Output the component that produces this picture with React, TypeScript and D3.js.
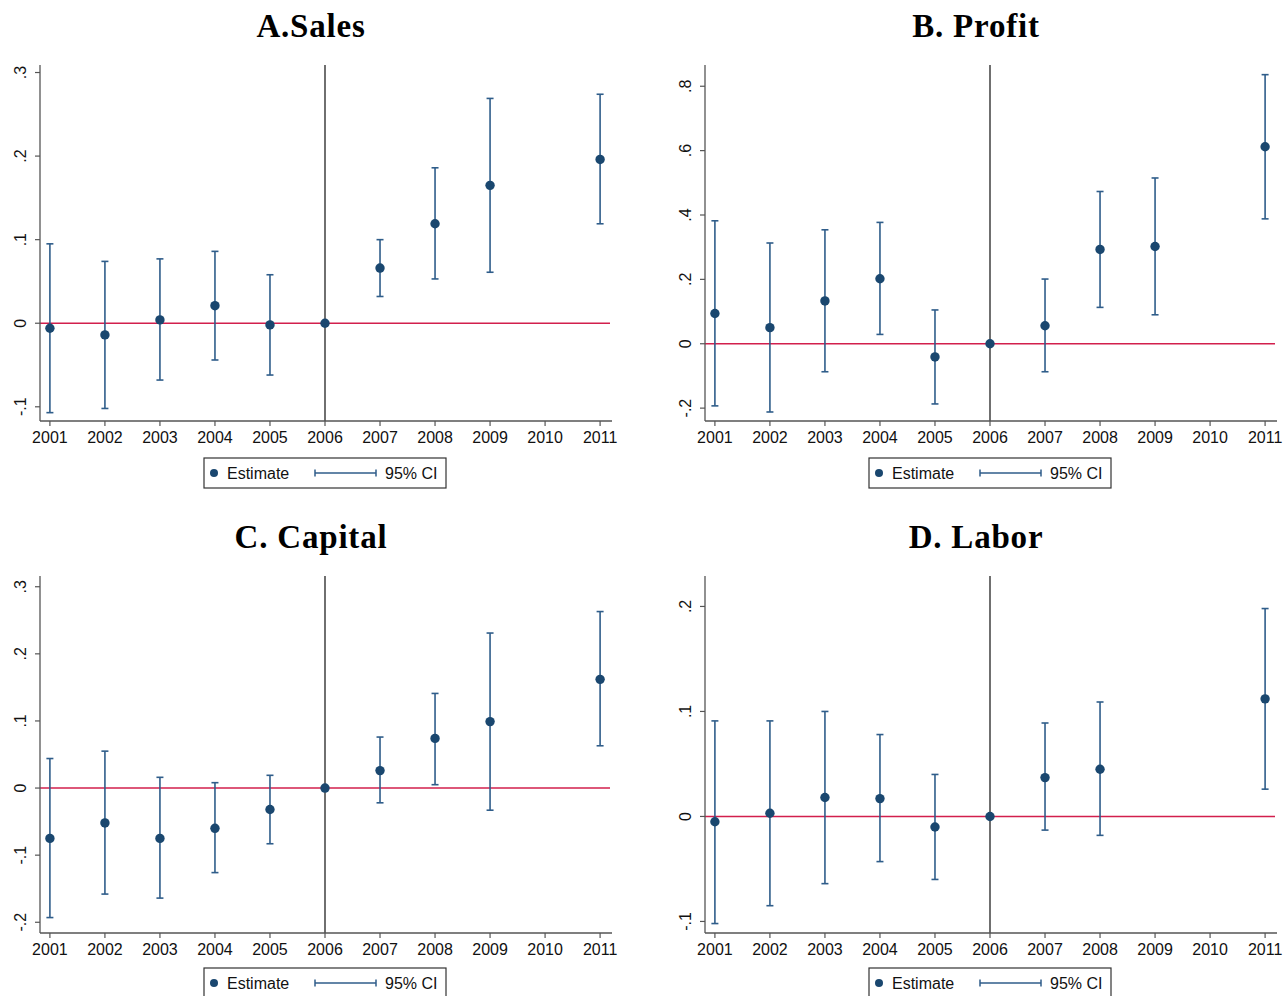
import React from "react";
import * as d3 from "d3";

const years = [2001, 2002, 2003, 2004, 2005, 2006, 2007, 2008, 2009, 2010, 2011];

// Panel A: Sales
const salesEst = [-0.006, -0.014, 0.004, 0.021, -0.002, 0, 0.066, 0.119, 0.165, null, 0.196];
const salesLo = [-0.107, -0.102, -0.068, -0.044, -0.062, null, 0.032, 0.053, 0.061, null, 0.119];
const salesHi = [0.095, 0.074, 0.077, 0.086, 0.058, null, 0.100, 0.186, 0.269, null, 0.274];
const salesTicks = [-0.1, 0, 0.1, 0.2, 0.3];
const salesTickLabels = ["-.1", "0", ".1", ".2", ".3"];

// Panel B: Profit
const profitEst = [0.094, 0.050, 0.133, 0.202, -0.041, 0, 0.056, 0.293, 0.302, null, 0.612];
const profitLo = [-0.193, -0.212, -0.087, 0.029, -0.187, null, -0.087, 0.113, 0.090, null, 0.388];
const profitHi = [0.382, 0.313, 0.354, 0.377, 0.105, null, 0.201, 0.473, 0.515, null, 0.836];
const profitTicks = [-0.2, 0, 0.2, 0.4, 0.6, 0.8];
const profitTickLabels = ["-.2", "0", ".2", ".4", ".6", ".8"];

// Panel C: Capital
const capitalEst = [-0.075, -0.052, -0.075, -0.060, -0.032, 0, 0.026, 0.074, 0.099, null, 0.162];
const capitalLo = [-0.193, -0.158, -0.164, -0.126, -0.083, null, -0.022, 0.005, -0.033, null, 0.063];
const capitalHi = [0.044, 0.055, 0.016, 0.008, 0.019, null, 0.076, 0.141, 0.231, null, 0.263];
const capitalTicks = [-0.2, -0.1, 0, 0.1, 0.2, 0.3];
const capitalTickLabels = ["-.2", "-.1", "0", ".1", ".2", ".3"];

// Panel D: Labor
const laborEst = [-0.005, 0.003, 0.018, 0.017, -0.010, 0, 0.037, 0.045, null, null, 0.112];
const laborLo = [-0.102, -0.085, -0.064, -0.043, -0.060, null, -0.013, -0.018, null, null, 0.026];
const laborHi = [0.091, 0.091, 0.100, 0.078, 0.040, null, 0.089, 0.109, null, null, 0.198];
const laborTicks = [-0.1, 0, 0.1, 0.2];
const laborTickLabels = ["-.1", "0", ".1", ".2"];

const titles = ["A.Sales", "B. Profit", "C. Capital", "D. Labor"];
const legendLabels = ["Estimate", "95% CI"];

const EST_COLOR = "#1a476f";
const CI_COLOR = "#2f5d8a";
const RED = "#d21f4d";
const AXIS = "#555";
const TXT = "#111";
const SANS = "'Liberation Sans', Arial, sans-serif";
const SERIF = "'Liberation Serif', 'Times New Roman', serif";

type PanelProps = {
  title: string;
  est: (number | null)[];
  lo: (number | null)[];
  hi: (number | null)[];
  ticks: number[];
  tickLabels: string[];
  yDomain: [number, number];
  left: number;
  right: number;
  top: number;
  bottom: number;
  titleY: number;
  legendGap: number;
};

function Panel(p: PanelProps) {
  const x = d3.scaleLinear().domain([2000.82, 2011.18]).range([p.left, p.right]);
  const y = d3.scaleLinear().domain(p.yDomain).range([p.bottom, p.top]);
  const cx = (p.left + p.right) / 2;
  const legTop = p.bottom + p.legendGap;
  const legLeft = cx - 121;
  return (
    <g>
      <text x={cx - 14} y={p.titleY} textAnchor="middle" fontFamily={SERIF} fontWeight="bold" fontSize={33} letterSpacing={0.8} fill="#000">
        {p.title}
      </text>
      <line x1={p.left} x2={p.right} y1={y(0)} y2={y(0)} stroke={RED} strokeWidth={1.5} />
      <line x1={x(2006)} x2={x(2006)} y1={p.top} y2={p.bottom} stroke="#222" strokeWidth={1.3} />
      <line x1={p.left} x2={p.left} y1={p.top} y2={p.bottom} stroke={AXIS} strokeWidth={1.3} />
      <line x1={p.left} x2={p.right + 2} y1={p.bottom} y2={p.bottom} stroke={AXIS} strokeWidth={1.3} />
      {p.ticks.map((t, i) => (
        <g key={"yt" + i}>
          <line x1={p.left - 5} x2={p.left} y1={y(t)} y2={y(t)} stroke={AXIS} strokeWidth={1.2} />
          <text transform={`translate(${p.left - 14},${y(t)}) rotate(-90)`} textAnchor="middle" fontFamily={SANS} fontSize={16} fill={TXT}>
            {p.tickLabels[i]}
          </text>
        </g>
      ))}
      {years.map((yr) => (
        <g key={"xt" + yr}>
          <line x1={x(yr)} x2={x(yr)} y1={p.bottom} y2={p.bottom + 5} stroke={AXIS} strokeWidth={1.2} />
          <text x={x(yr)} y={p.bottom + 22} textAnchor="middle" fontFamily={SANS} fontSize={16} fill={TXT}>
            {yr}
          </text>
        </g>
      ))}
      {years.map((yr, i) => {
        const l = p.lo[i];
        const h = p.hi[i];
        if (l == null || h == null) return null;
        const xx = x(yr);
        return (
          <g key={"ci" + yr} stroke={CI_COLOR} strokeWidth={1.6}>
            <line x1={xx} x2={xx} y1={y(l)} y2={y(h)} />
            <line x1={xx - 3.5} x2={xx + 3.5} y1={y(l)} y2={y(l)} />
            <line x1={xx - 3.5} x2={xx + 3.5} y1={y(h)} y2={y(h)} />
          </g>
        );
      })}
      {years.map((yr, i) => {
        const e = p.est[i];
        if (e == null) return null;
        return <circle key={"pt" + yr} cx={x(yr)} cy={y(e)} r={4.7} fill={EST_COLOR} />;
      })}
      <rect x={legLeft} y={legTop} width={242} height={30} fill="#fff" stroke="#333" strokeWidth={1.2} />
      <circle cx={legLeft + 10} cy={legTop + 15} r={4} fill={EST_COLOR} />
      <text x={legLeft + 23} y={legTop + 21} fontFamily={SANS} fontSize={16} fill={TXT}>
        {legendLabels[0]}
      </text>
      <g stroke={CI_COLOR} strokeWidth={1.5}>
        <line x1={legLeft + 111} x2={legLeft + 172} y1={legTop + 15} y2={legTop + 15} />
        <line x1={legLeft + 111} x2={legLeft + 111} y1={legTop + 11.5} y2={legTop + 18.5} />
        <line x1={legLeft + 172} x2={legLeft + 172} y1={legTop + 11.5} y2={legTop + 18.5} />
      </g>
      <text x={legLeft + 181} y={legTop + 21} fontFamily={SANS} fontSize={16} fill={TXT}>
        {legendLabels[1]}
      </text>
    </g>
  );
}

export default function App() {
  return (
    <svg width={1283} height={996} style={{ position: "absolute", left: 0, top: 0, background: "#fff" }}>
      <rect width={1283} height={996} fill="#fff" />
      <Panel title={titles[0]} est={salesEst} lo={salesLo} hi={salesHi} ticks={salesTicks} tickLabels={salesTickLabels}
        yDomain={[-0.117, 0.309]} left={40} right={610} top={65} bottom={421} titleY={37} legendGap={37} />
      <Panel title={titles[1]} est={profitEst} lo={profitLo} hi={profitHi} ticks={profitTicks} tickLabels={profitTickLabels}
        yDomain={[-0.24, 0.866]} left={705} right={1275} top={65} bottom={421} titleY={37} legendGap={37} />
      <Panel title={titles[2]} est={capitalEst} lo={capitalLo} hi={capitalHi} ticks={capitalTicks} tickLabels={capitalTickLabels}
        yDomain={[-0.216, 0.316]} left={40} right={610} top={576} bottom={933} titleY={548} legendGap={35} />
      <Panel title={titles[3]} est={laborEst} lo={laborLo} hi={laborHi} ticks={laborTicks} tickLabels={laborTickLabels}
        yDomain={[-0.111, 0.229]} left={705} right={1275} top={576} bottom={933} titleY={548} legendGap={35} />
    </svg>
  );
}
